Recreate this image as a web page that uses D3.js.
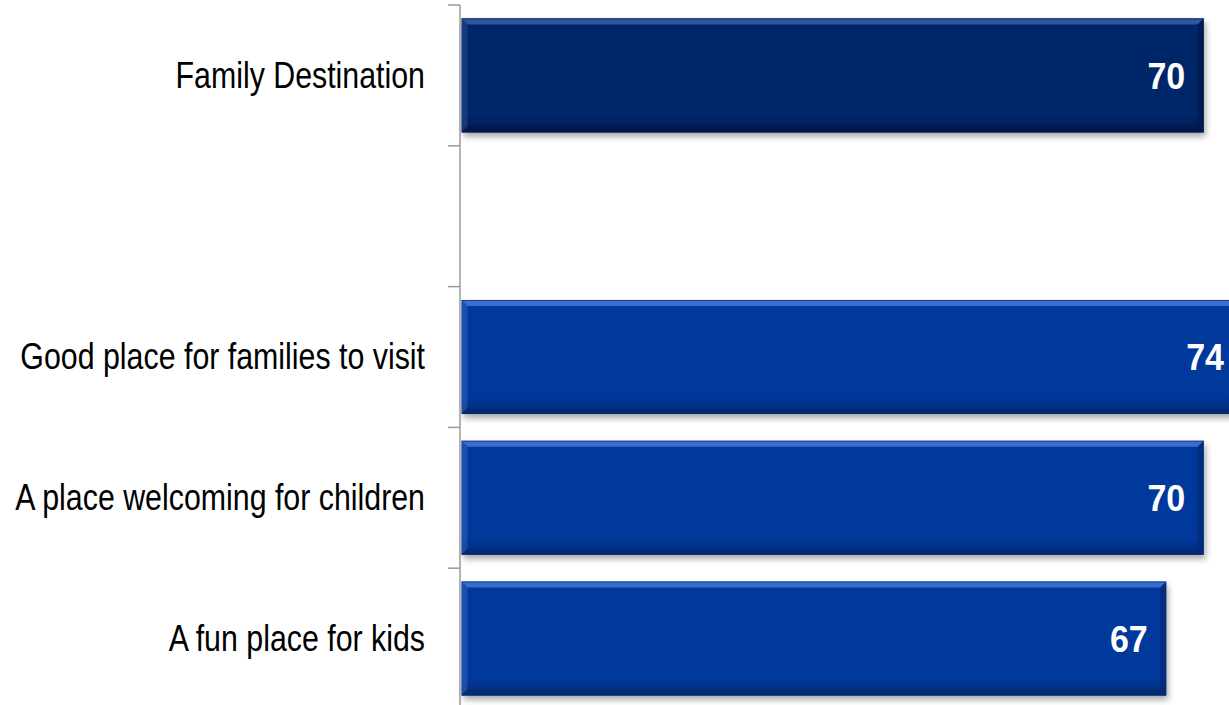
<!DOCTYPE html>
<html>
<head>
<meta charset="utf-8">
<script src="https://cdn.jsdelivr.net/npm/d3@7"></script>
<style>
  html, body { margin: 0; padding: 0; background: #fff; }
  svg { display: block; }
</style>
</head>
<body>
<svg id="chart" width="1229" height="705"></svg>
<script>
const categories = ["Family Destination", "", "Good place for families to visit", "A place welcoming for children", "A fun place for kids"];
const values = [70, null, 74, 70, 67];
const seriesKind = ["total", "none", "item", "item", "item"];

const W = 1229, H = 705;
const axisX = 460;
const svg = d3.select("#chart");

const x = d3.scaleLinear().domain([10.5, 74.5]).range([axisX, 1260]);
const y = d3.scaleBand().domain(categories).range([5, 709]).padding(0);

const colors = {
  total: { base: "#03256a", light: "#3a63b0", dark: "#021a4c" },
  item:  { base: "#05389c", light: "#4a7ad8", dark: "#032a74" }
};

const defs = svg.append("defs");
const f = defs.append("filter").attr("id", "shadow")
  .attr("x", "-5%").attr("y", "-20%").attr("width", "115%").attr("height", "150%");
f.append("feDropShadow").attr("dx", 2).attr("dy", 4).attr("stdDeviation", 3)
  .attr("flood-color", "#000").attr("flood-opacity", 0.35);

Object.entries(colors).forEach(([k, c]) => {
  const g = defs.append("linearGradient").attr("id", "grad-" + k)
    .attr("x1", 0).attr("y1", 0).attr("x2", 0).attr("y2", 1);
  g.append("stop").attr("offset", "0%").attr("stop-color", c.base);
  g.append("stop").attr("offset", "85%").attr("stop-color", c.base);
  g.append("stop").attr("offset", "100%").attr("stop-color", c.dark);
});

const data = categories.map((c, i) => ({ cat: c, v: values[i], kind: seriesKind[i] }))
  .filter(d => d.v != null);

const clip = defs.append("clipPath").attr("id", "plotclip");
clip.append("rect").attr("x", 0).attr("y", 0).attr("width", W).attr("height", H);

const gBars = svg.append("g").attr("clip-path", "url(#plotclip)");
const b = 6;
data.forEach(d => {
  const band = y.bandwidth();
  const y0 = y(d.cat) + band * 0.095;
  const h = band * 0.81;
  const x0 = x.range()[0] + 1.5;
  const x1 = x(d.v);
  const c = colors[d.kind];
  const g = gBars.append("g");
  g.append("rect").attr("x", x0).attr("y", y0).attr("width", x1 - x0).attr("height", h)
    .attr("fill", "url(#grad-" + d.kind + ")").attr("filter", "url(#shadow)");
  g.append("polygon")
    .attr("points", [[x0, y0], [x1, y0], [x1 - b, y0 + b], [x0 + b, y0 + b]].map(p => p.join(",")).join(" "))
    .attr("fill", c.light).attr("opacity", 0.8);
  g.append("polygon")
    .attr("points", [[x0, y0], [x0 + b, y0 + b], [x0 + b, y0 + h - b], [x0, y0 + h]].map(p => p.join(",")).join(" "))
    .attr("fill", c.light).attr("opacity", 0.35);
  g.append("polygon")
    .attr("points", [[x1, y0], [x1, y0 + h], [x1 - b, y0 + h - b], [x1 - b, y0 + b]].map(p => p.join(",")).join(" "))
    .attr("fill", c.dark).attr("opacity", 0.8);
  g.append("polygon")
    .attr("points", [[x0, y0 + h], [x1, y0 + h], [x1 - b, y0 + h - b], [x0 + b, y0 + h - b]].map(p => p.join(",")).join(" "))
    .attr("fill", c.dark).attr("opacity", 0.9);
  g.append("line").attr("x1", x0).attr("x2", x1).attr("y1", y0 + 0.5).attr("y2", y0 + 0.5)
    .attr("stroke", c.dark).attr("stroke-width", 1).attr("opacity", 0.6);

  g.append("text")
    .attr("transform", `translate(${Math.min(x1 - 18.5, W - 5)},${y0 + h / 2}) scale(0.92,1)`)
    .attr("dy", "0.36em")
    .attr("text-anchor", "end")
    .attr("font-family", "'Liberation Sans', Arial, sans-serif")
    .attr("font-weight", "bold")
    .attr("font-size", 37)
    .attr("fill", "#fff")
    .text(d.v);
});

const axisG = svg.append("g");
axisG.append("line").attr("x1", axisX).attr("x2", axisX).attr("y1", y.range()[0]).attr("y2", H)
  .attr("stroke", "#9a9a9a").attr("stroke-width", 1.5);
const tickYs = categories.map(c => y(c)).concat([y.range()[1]]);
axisG.selectAll("line.tick").data(tickYs).enter().append("line")
  .attr("class", "tick")
  .attr("x1", axisX - 12).attr("x2", axisX).attr("y1", d => d).attr("y2", d => d)
  .attr("stroke", "#9a9a9a").attr("stroke-width", 1.5);

axisG.selectAll("text.cat").data(categories.filter(c => c !== "")).enter().append("text")
  .attr("class", "cat")
  .attr("transform", d => `translate(${axisX - 35},${y(d) + y.bandwidth() / 2}) scale(0.82,1)`)
  .attr("dy", "0.33em")
  .attr("text-anchor", "end")
  .attr("font-family", "'Liberation Sans', Arial, sans-serif")
  .attr("font-size", 37)
  .attr("fill", "#000")
  .text(d => d);
</script>
</body>
</html>
